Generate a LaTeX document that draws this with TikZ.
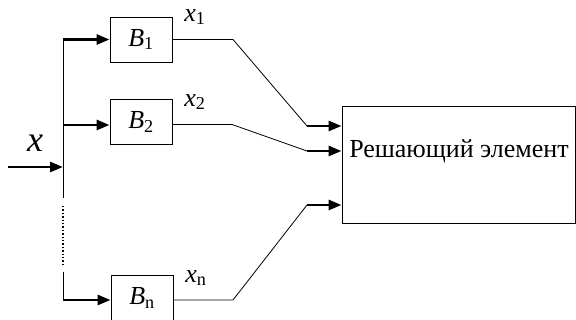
\documentclass[tikz,border=0pt]{standalone}
\usepackage{fontspec}
\setmainfont{Liberation Serif}
\usetikzlibrary{arrows.meta,positioning,calc}

\begin{document}
\begin{tikzpicture}[
    x=1pt, y=-1pt,
    blk/.style={draw, line width=0.9pt, minimum width=62pt, minimum height=45pt, inner sep=0pt, font=\fontsize{26}{30}\selectfont},
    lab/.style={font=\fontsize{26}{30}\selectfont, inner sep=0pt},
    arr/.style={-{Triangle[length=13pt,width=10pt]}, line width=2.8pt},
    wire/.style={line width=0.8pt}
  ]
    \useasboundingbox (0,0) rectangle (576,320);
    % blocks
    \node[blk] (b1) at (141,39.5) {\textit{B}\textsubscript{1}};
    \node[blk] (b2) at (141,122) {\textit{B}\textsubscript{2}};
    \node[blk] (bn) at (142,298) {\textit{B}\textsubscript{n}};
    \node[draw, line width=0.9pt, minimum width=233pt, minimum height=117pt, inner sep=0pt] (dec) at (458.5,164.5) {};
    \node[lab] (dectext) at (459,151) {Решающий элемент};
    % labels
    \node[lab] (l1) at (195,17) {\textit{x}\textsubscript{1}};
    \node[lab] (l2) at (195,102) {\textit{x}\textsubscript{2}};
    \node[lab] (ln) at (196,278) {\textit{x}\textsubscript{n}};
    \node[lab, font=\fontsize{36}{40}\selectfont] (lx) at (35,143) {\textit{x}};
    % bus
    \coordinate (in) at (8,167);
    \coordinate (bus1) at (63,39.5);
    \coordinate (bus2) at (63,125);
    \coordinate (busm) at (63,167);
    \coordinate (busa) at (63,198);
    \coordinate (busb) at (63,206);
    \coordinate (busc) at (63,267);
    \coordinate (busd) at (63,272);
    \coordinate (busn) at (63,300);
    \draw[arr] (in) -- (busm);
    \draw[wire] (bus1) -- (busa);
    \draw[line width=1.4pt, dotted] (busb) -- (busc);
    \draw[wire] (busd) -- (busn);
    \draw[arr] (bus1) -- (b1.west);
    \draw[arr] (bus2) -- (b2.west |- bus2);
    \draw[arr] (busn) -- (bn.west |- busn);
    % outputs
    \coordinate (k1) at (233,39.5);
    \coordinate (k2) at (232,124.5);
    \coordinate (kn) at (233,300);
    \coordinate (e1) at (307,126);
    \coordinate (e2) at (307,151);
    \coordinate (en) at (307,205);
    \draw[wire] (b1.east) -- (k1) -- (e1);
    \draw[wire] (b2.east |- k2) -- (k2) -- (e2);
    \draw[wire] (bn.east |- kn) -- (kn) -- (en);
    \draw[arr] (e1) -- (dec.west |- e1);
    \draw[arr] (e2) -- (dec.west |- e2);
    \draw[arr] (en) -- (dec.west |- en);
\end{tikzpicture}
\end{document}
